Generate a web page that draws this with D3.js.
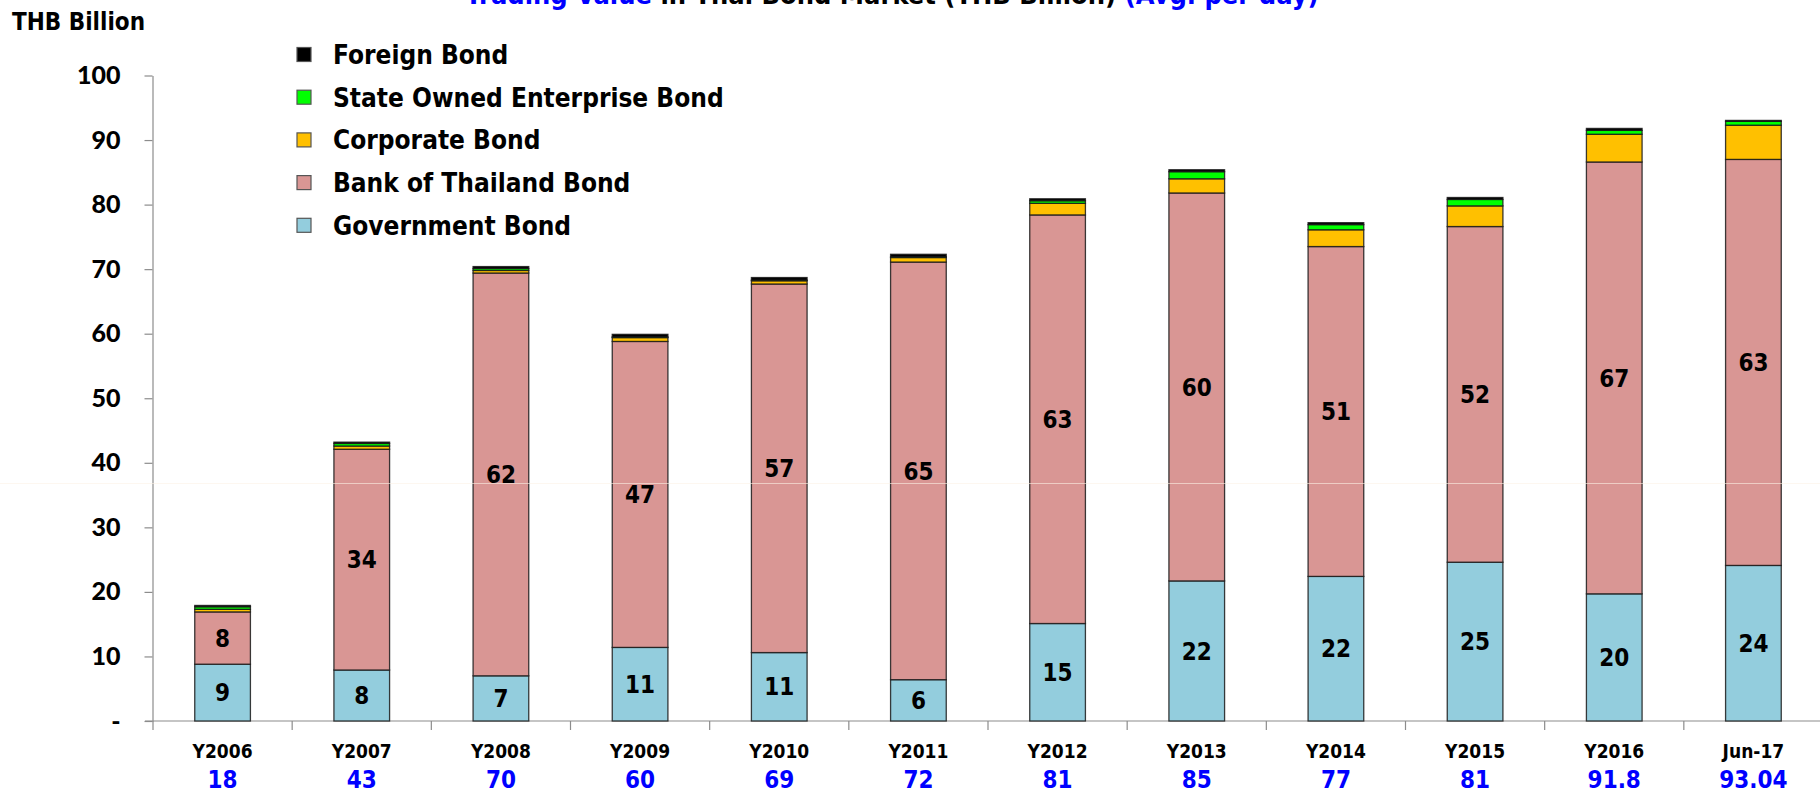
<!DOCTYPE html>
<html>
<head>
<meta charset="utf-8">
<script src="https://cdn.jsdelivr.net/npm/d3@7"></script>
<style>
  html, body { margin: 0; padding: 0; background: #ffffff; overflow: hidden; }
  svg { display: block; }
  .cond { font-family: "DejaVu Sans Condensed", "DejaVu Sans", sans-serif; font-stretch: condensed; font-weight: bold; }
</style>
</head>
<body>
<svg id="chart" width="1820" height="792"></svg>
<script>
// ---------------- data ----------------
const categories = ["Y2006","Y2007","Y2008","Y2009","Y2010","Y2011","Y2012","Y2013","Y2014","Y2015","Y2016","Jun-17"];
const governmentBond = [8.8, 7.9, 7.0, 11.4, 10.6, 6.4, 15.1, 21.7, 22.4, 24.6, 19.7, 24.1];
const bankOfThailandBond = [8.1, 34.2, 62.4, 47.4, 57.1, 64.7, 63.3, 60.1, 51.1, 52.0, 66.9, 62.9];
const corporateBond = [0.4, 0.5, 0.4, 0.6, 0.5, 0.7, 1.8, 2.2, 2.6, 3.2, 4.3, 5.3];
const stateOwnedBond = [0.4, 0.4, 0.3, 0.1, 0.1, 0.1, 0.4, 1.1, 0.8, 1.0, 0.6, 0.6];
const foreignBond = [0.2, 0.2, 0.3, 0.4, 0.4, 0.4, 0.3, 0.3, 0.3, 0.3, 0.3, 0.14];
const totalLabels = ["18","43","70","60","69","72","81","85","77","81","91.8","93.04"];
const seriesNames = ["Government Bond","Bank of Thailand Bond","Corporate Bond","State Owned Enterprise Bond","Foreign Bond"];
const seriesColors = ["#93CDDD","#D99694","#FFC000","#00FF00","#000000"];
const yTickValues = [0,10,20,30,40,50,60,70,80,90,100];
const yTickLabels = ["-","10","20","30","40","50","60","70","80","90","100"];
const titleParts = [
  {text: "Trading Value ", color: "#0000FF"},
  {text: "in Thai Bond Market (THB Billion) ", color: "#000000"},
  {text: "(Avg. per day)", color: "#0000FF"}
];
const yAxisTitle = "THB Billion";

// ---------------- layout ----------------
const svg = d3.select("#chart");
const margin = {left: 153, right: -3, top: 75.5, bottom: 71};
const W = 1820, H = 792;
const x = d3.scaleBand().domain(categories).range([margin.left, W - margin.right]).padding(0);
const y = d3.scaleLinear().domain([0, 100]).range([H - margin.bottom, margin.top]);
const barW = x.bandwidth() * 0.4;

const seriesArrays = [governmentBond, bankOfThailandBond, corporateBond, stateOwnedBond, foreignBond];
const rows = categories.map((c, i) => {
  const r = {cat: c};
  seriesNames.forEach((s, k) => r[s] = seriesArrays[k][i]);
  return r;
});
const stacked = d3.stack().keys(seriesNames)(rows);

// title (clipped at top like the reference)
const title = svg.append("text").attr("class", "cond")
  .attr("x", 892).attr("y", 4).attr("text-anchor", "middle")
  .style("font-size", "27px");
titleParts.forEach(p => title.append("tspan").attr("fill", p.color).text(p.text));

// y axis title
svg.append("text").attr("class", "cond")
  .attr("x", 12).attr("y", 30).style("font-size", "24px").attr("fill", "#000")
  .text(yAxisTitle);

// y axis
const yAxis = d3.axisLeft(y).tickValues(yTickValues)
  .tickFormat((d, i) => yTickLabels[i]).tickSize(8).tickSizeOuter(0).tickPadding(24);
const gy = svg.append("g").attr("transform", `translate(${margin.left - 0.5},0)`).call(yAxis);
gy.select(".domain").attr("stroke", "#8c8c8c").attr("stroke-width", 1.2);
gy.selectAll(".tick line").attr("stroke", "#8c8c8c").attr("stroke-width", 1.2);
gy.selectAll(".tick text")
  .style("font-family", "Lato, 'DejaVu Sans', sans-serif")
  .style("font-weight", "900").style("font-size", "25px").attr("fill", "#000");

// x baseline and category ticks
const base = y(0);
svg.append("line").attr("x1", margin.left - 8).attr("x2", W).attr("y1", base).attr("y2", base)
  .attr("stroke", "#8c8c8c").attr("stroke-width", 1.2);
const boundaries = d3.range(categories.length + 1).map(i => x.range()[0] + i * x.step());
svg.append("g").selectAll("line").data(boundaries).join("line")
  .attr("x1", d => d).attr("x2", d => d).attr("y1", base).attr("y2", base + 9)
  .attr("stroke", "#8c8c8c").attr("stroke-width", 1.2);

// bars
const gBars = svg.append("g");
stacked.forEach((layer, k) => {
  gBars.append("g").selectAll("rect").data(layer).join("rect")
    .attr("x", d => x(d.data.cat) + (x.bandwidth() - barW) / 2)
    .attr("width", barW)
    .attr("y", d => y(d[1]))
    .attr("height", d => Math.max(0, y(d[0]) - y(d[1])))
    .attr("fill", seriesColors[k])
    .attr("stroke", "#1a1a1a").attr("stroke-opacity", 0.85).attr("stroke-width", 1.3);
});

// segment labels for Government and Bank of Thailand
[0, 1].forEach(k => {
  svg.append("g").selectAll("text").data(stacked[k]).join("text")
    .attr("class", "cond")
    .attr("x", d => x(d.data.cat) + x.bandwidth() / 2)
    .attr("y", d => y((d[0] + d[1]) / 2))
    .attr("dy", "0.36em").attr("text-anchor", "middle")
    .style("font-size", "24px").attr("fill", "#000")
    .text(d => Math.round(d[1] - d[0]));
});

// category labels and totals
svg.append("g").selectAll("text").data(categories).join("text")
  .attr("class", "cond")
  .attr("x", d => x(d) + x.bandwidth() / 2).attr("y", base + 30)
  .attr("dy", "0.36em").attr("text-anchor", "middle")
  .style("font-size", "19px").attr("fill", "#000").text(d => d);
svg.append("g").selectAll("text").data(totalLabels).join("text")
  .attr("class", "cond")
  .attr("x", (d, i) => x(categories[i]) + x.bandwidth() / 2).attr("y", base + 58)
  .attr("dy", "0.36em").attr("text-anchor", "middle")
  .style("font-size", "24px").attr("fill", "#0000FF").text(d => d);

// legend (top to bottom: reverse order of stacking)
const legendOrder = seriesNames.map((s, k) => ({name: s, color: seriesColors[k]})).reverse();
const lg = svg.append("g").selectAll("g").data(legendOrder).join("g")
  .attr("transform", (d, i) => `translate(297, ${54.5 + i * 42.7})`);
lg.append("rect").attr("x", 0).attr("y", -7).attr("width", 14).attr("height", 14)
  .attr("fill", d => d.color).attr("stroke", "#555").attr("stroke-width", 1.2);
lg.append("text").attr("class", "cond").attr("x", 36).attr("y", 0).attr("dy", "0.36em")
  .style("font-size", "26px").attr("fill", "#000").text(d => d.name);

// faint horizontal scan line seen in the reference
svg.append("line").attr("x1", 0).attr("x2", W).attr("y1", 483.5).attr("y2", 483.5)
  .attr("stroke", "#fbf1e6").attr("stroke-opacity", 0.6).attr("stroke-width", 1);
</script>
</body>
</html>
